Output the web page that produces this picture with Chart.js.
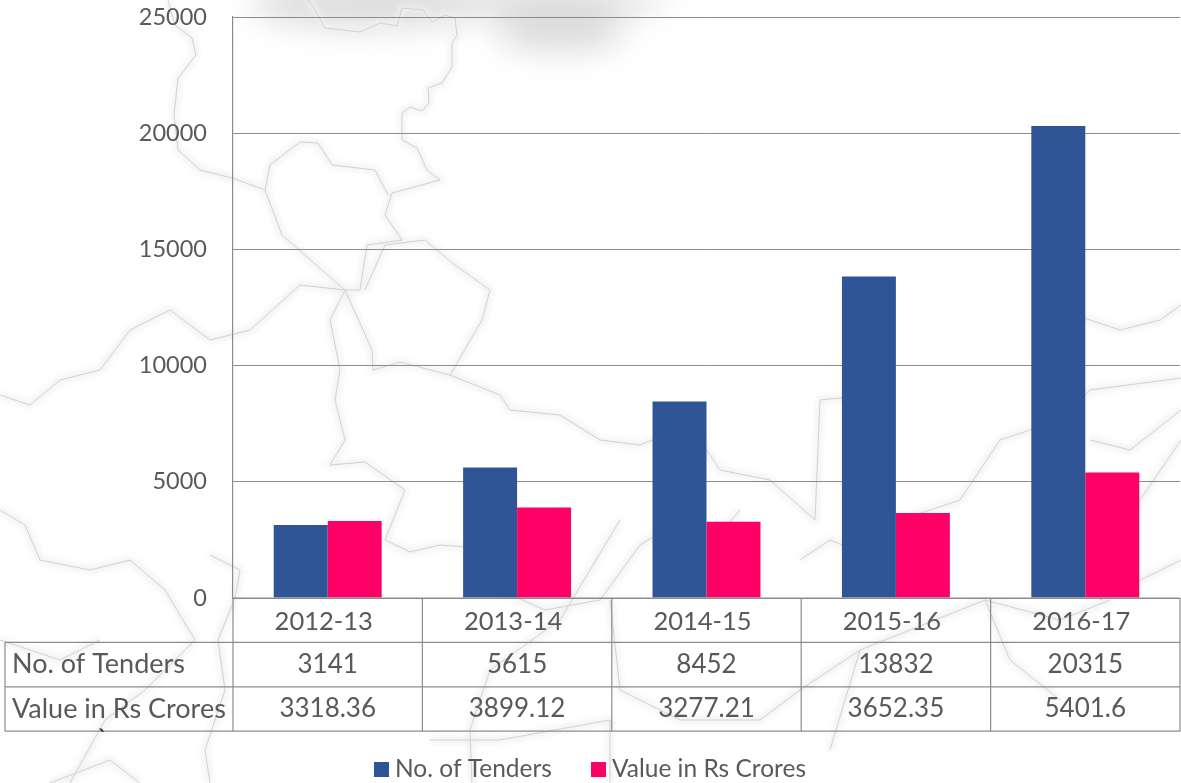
<!DOCTYPE html>
<html><head><meta charset="utf-8">
<script src="https://cdn.jsdelivr.net/npm/chart.js@4"></script>
<style>
html,body{margin:0;padding:0;background:#fff;width:1181px;height:783px;overflow:hidden}
#bg{position:absolute;left:0;top:0}
#wrap{position:absolute;left:0;top:0;width:1181px;height:783px}
</style></head><body>
<svg id="bg" width="1181" height="783" viewBox="0 0 1181 783">
<defs><filter id="b" x="-50%" y="-50%" width="200%" height="200%"><feGaussianBlur stdDeviation="16"/></filter>
<filter id="s" x="-5%" y="-5%" width="110%" height="110%"><feGaussianBlur stdDeviation="3"/></filter></defs>
<g fill="#dcdcdc" filter="url(#b)"><ellipse cx="370" cy="4" rx="120" ry="24"/><ellipse cx="560" cy="30" rx="65" ry="22"/><ellipse cx="540" cy="0" rx="130" ry="14"/></g>
<defs>
<path id="p" d="M308 0L315 10 325 28 360 32 380 23 397 26 402 8 423 10 432 22 445 15 455 18 457 35 452 43 452 67 442 83 428 88 429 103 422 111 410 107 402 113 402 140 417 148 427 170 440 180 392 193 385 215 402 240 367 245 360 290 345 290 322 270 282 235 265 190 270 165 300 142 318 143 332 165 375 170 388 195
M168 0L175 25 192 38 196 55 178 78 174 115 178 150 200 170 232 178 265 190
M365 290L385 245 425 240 455 265 490 290 482 320 450 375 400 362 373 370 372 350 345 290 330 320 340 370 335 400 345 440 330 465 365 462 405 490 385 540 410 552 440 545 480 548 500 590 545 610 600 600 640 545 665 530 710 545 740 510
M450 375L500 395 510 410 560 415 600 440 640 445 690 425 720 470 770 480 815 520 820 400 870 395 890 440 870 500 900 520 960 500 1000 440 1060 420 1090 390 1181 378
M0 395L30 405 60 380 100 370 130 330 170 310 210 340 250 330 300 285 345 290
M1060 310L1120 330 1160 320 1181 305 M1090 440L1130 450 1181 410
M0 510L25 525 40 560 90 570 130 560 165 590 195 640 145 690 105 720 70 783
M210 555L240 570 235 598 218 640 225 690 205 750 210 783
M472 783L470 730 490 670 560 620 620 520 M610 600L620 690 680 720 760 720 800 690 860 650 985 600 1060 620 1110 600
M430 740L500 740 610 720 610 783 M985 600L1010 660 1060 700 M860 650L830 750 M800 560L830 540 880 560
M0 640L60 660 100 640 M50 783L110 760 140 783 M1100 600L1181 560 M1181 440L1140 500 1120 540"/>
</defs>
<use href="#p" fill="none" stroke="#f0f0f0" stroke-width="6" filter="url(#s)"/>
<use href="#p" fill="none" stroke="#d2d2d2" stroke-width="1"/>
</svg>
<div id="wrap"><canvas id="c" width="1181" height="783"></canvas></div>
<script>
const categories=["2012-13","2013-14","2014-15","2015-16","2016-17"];
const seriesNames=["No. of Tenders","Value in Rs Crores"];
const tenders=[3141,5615,8452,13832,20315];
const values=[3318.36,3899.12,3277.21,3652.35,5401.6];
const valueLabels=["3318.36","3899.12","3277.21","3652.35","5401.6"];
const seriesColors=['#2F5597','#FF0066'];
const FONT='Lato, "Open Sans", sans-serif';
const TEXT='#595959', LINE='#8c8c8c';
const tablePlugin={id:'dataTable',afterDraw(chart){
  const {ctx,scales:{x},chartArea:a}=chart;
  const rowH=44.4, left=5, top=a.bottom, w=(a.right-a.left)/categories.length;
  ctx.save();
  ctx.strokeStyle=LINE;ctx.lineWidth=1.2;
  const line=(x1,y1,x2,y2)=>{ctx.beginPath();ctx.moveTo(x1,y1);ctx.lineTo(x2,y2);ctx.stroke();};
  line(a.left,top,a.right,top);
  line(left,top+rowH,a.right,top+rowH);
  line(left,top+2*rowH,a.right,top+2*rowH);
  line(left,top+3*rowH,a.right,top+3*rowH);
  line(left,top+rowH,left,top+3*rowH);
  for(let i=0;i<=categories.length;i++){
    const px=i<categories.length?x.getPixelForValue(i)-w/2:a.right;
    line(px,top,px,top+3*rowH);
  }
  ctx.fillStyle=TEXT;ctx.textBaseline='middle';
  ctx.textAlign='left';
  ctx.font='27px '+FONT;
  ctx.fillText(seriesNames[0],12,top+rowH*1.5);
  ctx.fillText(seriesNames[1],12,top+rowH*2.5);
  ctx.font='26px '+FONT;
  ctx.textAlign='center';
  categories.forEach((c,i)=>{
    const px=x.getPixelForValue(i);
    ctx.fillText(String(tenders[i]),px,top+rowH*1.5);
    ctx.fillText(valueLabels[i],px,top+rowH*2.5);
  });
  // legend
  ctx.font='24.5px '+FONT;ctx.textAlign='left';
  const legendStarts=[374,591];
  seriesNames.forEach((n,i)=>{
    ctx.fillStyle=seriesColors[i];
    ctx.fillRect(legendStarts[i],762,15,15);
    ctx.fillStyle=TEXT;
    ctx.fillText(n,legendStarts[i]+21,769.5);
  });
  // stray mark present in the source picture
  ctx.fillStyle='#404040';ctx.font='bold 22px '+FONT;
  ctx.fillText('`',98,738);
  ctx.restore();
}};
new Chart(document.getElementById('c'),{
  type:'bar',
  data:{labels:categories,datasets:[
    {label:seriesNames[0],data:tenders,backgroundColor:seriesColors[0],barPercentage:1,categoryPercentage:0.57},
    {label:seriesNames[1],data:values,backgroundColor:seriesColors[1],barPercentage:1,categoryPercentage:0.57}
  ]},
  options:{
    responsive:false,animation:false,
    layout:{autoPadding:false,padding:{top:17,right:1,left:0,bottom:0}},
    plugins:{tooltip:{enabled:false},legend:{display:false}},
    scales:{
      x:{grid:{display:false},border:{display:false},
        ticks:{color:TEXT,font:{family:FONT,size:25.5},padding:0,maxRotation:0,labelOffset:-4},
        afterFit(s){s.height=185;}},
      y:{min:0,max:25000,
        ticks:{stepSize:5000,color:TEXT,font:{family:FONT,size:23.5},padding:26,callback:v=>String(v)},
        grid:{color:LINE,lineWidth:1,drawTicks:false},
        border:{color:LINE,width:1.2},
        afterFit(s){s.width=233;s.paddingTop=0;s.paddingBottom=0;}}
    }
  },
  plugins:[tablePlugin]
});
</script></body></html>
